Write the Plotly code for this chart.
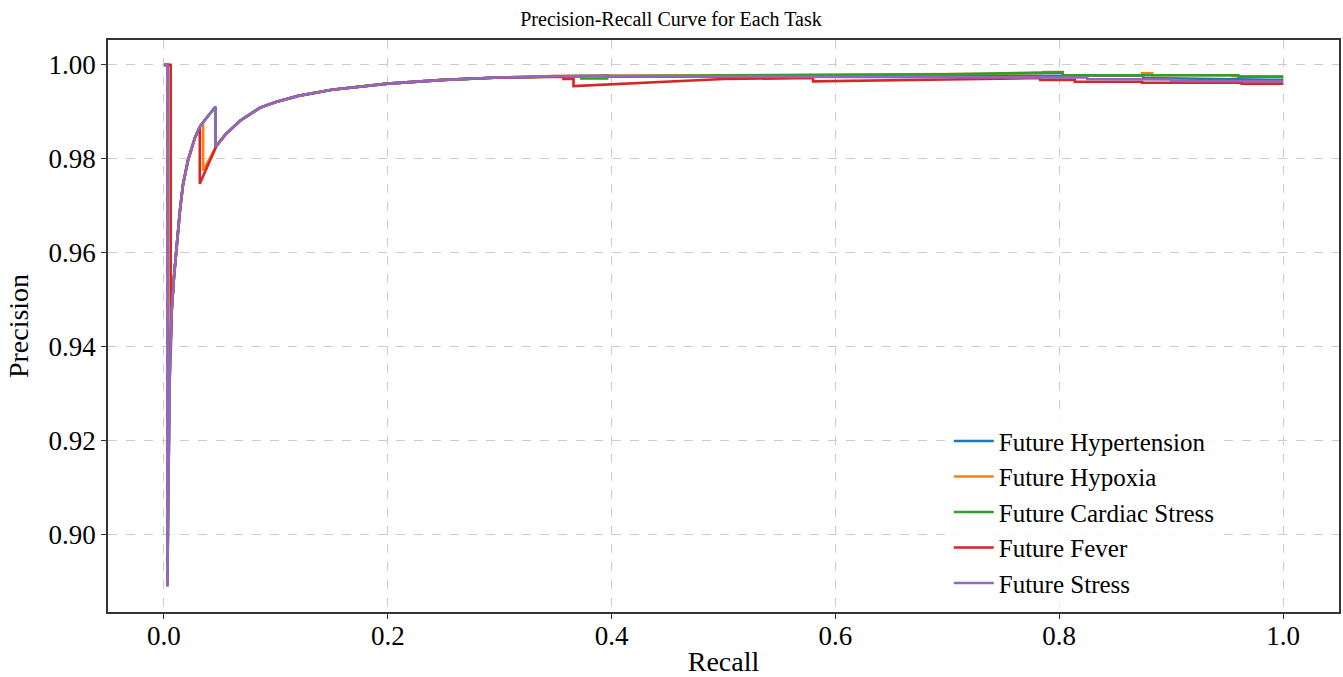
import plotly.graph_objects as go

# ---- data (recall, precision) ----
# shared low-recall rise (hyperbola-like), before the first jump
early_recall = [0.003, 0.0035, 0.004, 0.005, 0.006, 0.007, 0.009, 0.0107, 0.0143, 0.017, 0.0214, 0.0277, 0.032]
early_precision = [0.889, 0.905, 0.918, 0.932, 0.941, 0.948, 0.955, 0.960, 0.969, 0.9745, 0.9796, 0.9845, 0.9868]

# shared main curve after the jump at ~0.047
main_recall = [0.047, 0.055, 0.068, 0.086, 0.10, 0.12, 0.15, 0.20, 0.25, 0.30, 0.35]
main_precision = [0.9828, 0.9852, 0.9881, 0.9909, 0.9921, 0.9934, 0.9947, 0.9960, 0.9968, 0.9973, 0.9976]

# Future Stress (purple)
stress_recall = [0.0, 0.003] + early_recall + [0.035, 0.040, 0.046, 0.046] + main_recall + \
    [0.40, 0.60, 0.80, 0.825, 0.825, 0.90, 0.90, 1.0]
stress_precision = [1.0, 1.0] + early_precision + [0.9878, 0.9893, 0.9911, 0.9828] + main_precision + \
    [0.9976, 0.9974, 0.9973, 0.9973, 0.9970, 0.9969, 0.9966, 0.9965]

# Future Hypertension (blue)
hyper_recall = [0.0, 0.003] + early_recall + [0.035, 0.040, 0.046, 0.046] + main_recall + \
    [0.39, 0.397, 0.397, 0.60, 0.80, 0.875, 0.875, 1.0]
hyper_precision = [1.0, 1.0] + early_precision + [0.9878, 0.9893, 0.9911, 0.9828] + main_precision + \
    [0.9977, 0.9978, 0.9975, 0.9975, 0.9977, 0.9977, 0.9972, 0.9968]

# Future Hypoxia (orange)
hypoxia_recall = [0.0, 0.003] + early_recall + [0.035, 0.035] + main_recall + \
    [0.44, 0.60, 0.75, 0.786, 0.786, 0.803, 0.803, 0.874, 0.874, 0.883, 0.883, 0.955, 0.955, 0.96, 0.96, 1.0]
hypoxia_precision = [1.0, 1.0] + early_precision + [0.9878, 0.9775] + main_precision + \
    [0.9977, 0.9979, 0.9981, 0.9983, 0.9985, 0.9985, 0.9978, 0.9978, 0.9982, 0.9982, 0.9978, 0.9978, 0.9976, 0.9976, 0.9975, 0.9975]

# Future Cardiac Stress (green)
cardiac_recall = [0.0, 0.003] + early_recall + [0.035, 0.040, 0.046, 0.046] + main_recall + \
    [0.373, 0.373, 0.396, 0.396, 0.44, 0.55, 0.70, 0.75, 0.786, 0.803, 0.803, 0.96, 0.96, 1.0]
cardiac_precision = [1.0, 1.0] + early_precision + [0.9878, 0.9893, 0.9911, 0.9828] + main_precision + \
    [0.9976, 0.9971, 0.9971, 0.9976, 0.9977, 0.9978, 0.9980, 0.9982, 0.9984, 0.9984, 0.9978, 0.9978, 0.9975, 0.9975]

# Future Fever (red)
fever_recall = [0.0, 0.006, 0.006] + early_recall[5:] + [0.032] + main_recall + \
    [0.357, 0.357, 0.366, 0.366, 0.443, 0.50, 0.58, 0.58, 0.70, 0.783, 0.783, 0.814, 0.814, 0.874, 0.874, 0.963, 0.963, 1.0]
fever_precision = [1.0, 1.0, 0.938] + early_precision[5:] + [0.9747] + main_precision + \
    [0.9975, 0.9970, 0.9970, 0.9955, 0.9963, 0.9970, 0.9972, 0.9965, 0.9969, 0.9972, 0.9968, 0.9968, 0.9964, 0.9964, 0.9962, 0.9962, 0.9960, 0.9960]

series_names = ["Future Hypertension", "Future Hypoxia", "Future Cardiac Stress", "Future Fever", "Future Stress"]
series_recall = [hyper_recall, hypoxia_recall, cardiac_recall, fever_recall, stress_recall]
series_precision = [hyper_precision, hypoxia_precision, cardiac_precision, fever_precision, stress_precision]
series_colors = ["#1f77b4", "#ff7f0e", "#2ca02c", "#d62728", "#9467bd"]

x_ticks = [0.0, 0.2, 0.4, 0.6, 0.8, 1.0]
x_tick_text = ["0.0", "0.2", "0.4", "0.6", "0.8", "1.0"]
y_ticks = [0.90, 0.92, 0.94, 0.96, 0.98, 1.00]
y_tick_text = ["0.90", "0.92", "0.94", "0.96", "0.98", "1.00"]

FONT = "Liberation Serif, Times New Roman, serif"

fig = go.Figure()
for name, rx, py, col in zip(series_names, series_recall, series_precision, series_colors):
    fig.add_trace(go.Scatter(x=rx, y=py, mode="lines", name=name,
                             line=dict(color=col, width=2.6)))

axis_common = dict(
    showline=True, mirror=True, linecolor="#333333", linewidth=1.5,
    showgrid=True, gridcolor="#cccccc", griddash="dash", gridwidth=1,
    ticks="outside", ticklen=5, tickcolor="#333333", tickwidth=1.2,
    zeroline=False, automargin=False,
    tickfont=dict(family=FONT, size=27, color="black"),
)

fig.update_layout(
    width=1343, height=677,
    margin=dict(l=108, r=4, t=40, b=65),
    paper_bgcolor="white", plot_bgcolor="white",
    title=dict(text="Precision-Recall Curve for Each Task", x=0.4996, xanchor="center",
               xref="container", y=0.983, yanchor="top",
               font=dict(family=FONT, size=20, color="black")),
    xaxis=dict(range=[-0.05, 1.05], tickvals=x_ticks, ticktext=x_tick_text,
               ticklabelstandoff=-6,
               title=dict(text="Recall", font=dict(family=FONT, size=28, color="black"), standoff=8),
               **axis_common),
    yaxis=dict(range=[0.8835, 1.0053], tickvals=y_ticks, ticktext=y_tick_text,
               title=dict(text="Precision", font=dict(family=FONT, size=28, color="black"), standoff=12),
               **axis_common),
    legend=dict(x=0.683, y=0.01, xanchor="left", yanchor="bottom",
                bgcolor="rgba(255,255,255,0.85)", borderwidth=0,
                font=dict(family=FONT, size=25, color="black"),
                tracegroupgap=0, itemwidth=40),
    showlegend=True,
)

fig.write_html("out.html", config={"displayModeBar": False},
               post_script="document.body.style.margin='0';")
